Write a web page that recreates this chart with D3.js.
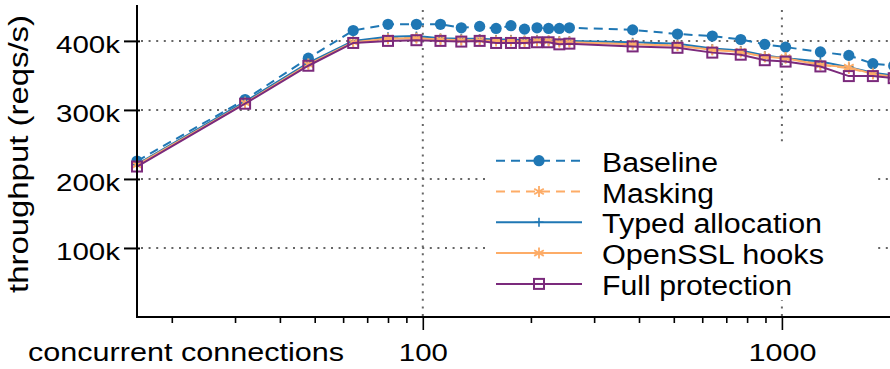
<!DOCTYPE html>
<html><head><meta charset="utf-8">
<script src="https://cdn.jsdelivr.net/npm/d3@7"></script>
<style>
html,body{margin:0;padding:0;background:#fff;}
svg{display:block;font-family:"Liberation Sans",Arial,Helvetica,sans-serif;}
</style></head>
<body><svg id="chart" width="890" height="369"></svg>
<script>
// ---- data ----
const connections = [16,32,48,64,80,96,112,128,144,160,176,192,208,224,240,256,384,512,640,768,896,1024,1280,1536,1792,2048];
const baseline   = [226,315,375,415,424,424,424,419,421,418,422,417,419,418,418,419,416,410,407,402,395,391,384,379,367,364];
const masking    = [221,311,367,399,404,405,403,402,402,401,401,400,401,400,399,399,396,394,387,385,377,376,366,360,353,349];
const typedAlloc = [221,312,368,400,406,407,404,403,403,402,402,401,402,401,400,400,398,396,389,386,379,375,370,362,354,350];
const opensslHooks=[220,310,366,398,403,404,402,401,401,400,400,399,400,400,398,398,395,393,387,384,377,375,365,362,352,348];
const fullProt   = [218,309,364,397,400,401,400,399,400,397,397,397,398,398,395,396,392,390,383,380,372,370,363,349,349,346];
const seriesNames = ["Baseline","Masking","Typed allocation","OpenSSL hooks","Full protection"];
const yTickValues = [100,200,300,400];
const yTickLabels = ["100k","200k","300k","400k"];
const xMajorTicks = [100,1000];
const xMajorLabels = ["100","1000"];
const xMinorTicks = [20,30,40,50,60,70,80,90,200,300,400,500,600,700,800,900];
const xLabel = "concurrent connections";
const yLabel = "throughput (reqs/s)";

// ---- styles ----
const BLUE="#1f77b4", ORANGE="#fdac67", PURPLE="#7b2a7c";
const styles = [
  {color:BLUE, dash:"9,6", marker:"circle"},
  {color:ORANGE, dash:"9,6", marker:"asterisk"},
  {color:BLUE, dash:null, marker:"plus"},
  {color:ORANGE, dash:null, marker:"asterisk"},
  {color:PURPLE, dash:null, marker:"square"}
];
const allSeries = [baseline, masking, typedAlloc, opensslHooks, fullProt];

const svg = d3.select("#chart");
const L=137, R=890, T=5, B=317;
const x = d3.scaleLog().domain([16,2000]).range([L,R]);
const y = d3.scaleLinear().domain([0,452]).range([B,T]);

// grid
const grid = svg.append("g").attr("stroke","#666").attr("stroke-width",2).attr("stroke-dasharray","2,5.6");
grid.selectAll("line.h").data(yTickValues).join("line").attr("class","h")
  .attr("x1",L+4).attr("x2",R).attr("y1",d=>y(d)).attr("y2",d=>y(d));
grid.selectAll("line.v").data(xMajorTicks).join("line").attr("class","v")
  .attr("x1",d=>x(d)).attr("x2",d=>x(d)).attr("y1",T+5).attr("y2",B);

// series
function drawMarker(g, type, color){
  if(type==="circle"){
    g.append("circle").attr("r",5.6).attr("fill",color);
  } else if(type==="square"){
    g.append("rect").attr("x",-5).attr("y",-5).attr("width",10).attr("height",10)
      .attr("fill","none").attr("stroke",color).attr("stroke-width",2);
  } else if(type==="plus"){
    g.append("path").attr("d","M-4.5,0H4.5M0,-4.5V4.5").attr("stroke",color).attr("stroke-width",1.6);
  } else if(type==="asterisk"){
    g.append("path").attr("d","M0,-5.5V5.5M-4.8,-2.8L4.8,2.8M-4.8,2.8L4.8,-2.8").attr("stroke",color).attr("stroke-width",1.8);
  }
}
const line = d3.line().x(d=>x(d[0])).y(d=>y(d[1]));
allSeries.forEach((vals,i)=>{
  const st = styles[i];
  const pts = connections.map((c,j)=>[c,vals[j]]);
  const g = svg.append("g");
  g.append("path").datum(pts).attr("d",line).attr("fill","none")
    .attr("stroke",st.color).attr("stroke-width",2)
    .attr("stroke-dasharray",st.dash);
  pts.forEach(p=>{
    const m = g.append("g").attr("transform",`translate(${x(p[0])},${y(p[1])})`);
    drawMarker(m, st.marker, st.color);
  });
});

// axes
const yAxis = d3.axisLeft(y).tickValues(yTickValues).tickFormat((d,i)=>yTickLabels[i]).tickSize(13).tickPadding(4);
const gy = svg.append("g").attr("transform",`translate(${L},0)`).call(yAxis);
gy.select(".domain").attr("d",`M0,${T}V${B}`).attr("stroke","#000").attr("stroke-width",2);
gy.selectAll(".tick line").attr("x1",3).attr("stroke","#000").attr("stroke-width",2);
gy.selectAll(".tick text").attr("font-size",24).attr("fill","#000").attr("dy",null).attr("y",11.5)
  .attr("font-family","Liberation Sans, Arial, sans-serif")
  .attr("textLength",64).attr("lengthAdjust","spacingAndGlyphs");

const xAxisMinor = d3.axisBottom(x).tickValues(xMinorTicks).tickFormat("").tickSize(6);
const gxm = svg.append("g").attr("transform",`translate(0,${B})`).call(xAxisMinor);
gxm.select(".domain").remove();
gxm.selectAll(".tick line").attr("stroke","#000").attr("stroke-width",1.6);

const xAxis = d3.axisBottom(x).tickValues(xMajorTicks).tickFormat((d,i)=>xMajorLabels[i]).tickSize(13);
const gx = svg.append("g").attr("transform",`translate(0,${B})`).call(xAxis);
gx.select(".domain").attr("d",`M${L-1},0H${R}`).attr("stroke","#000").attr("stroke-width",2);
gx.selectAll(".tick line").attr("stroke","#000").attr("stroke-width",1.6);
gx.selectAll(".tick text").attr("font-size",24).attr("fill","#000").attr("dy",null).attr("y",44)
  .attr("font-family","Liberation Sans, Arial, sans-serif")
  .attr("textLength",(d,i)=>i===0?49:68).attr("lengthAdjust","spacingAndGlyphs");

// axis labels
svg.append("text").attr("x",28).attr("y",361).attr("font-size",26)
  .attr("textLength",316).attr("lengthAdjust","spacingAndGlyphs").text(xLabel);
svg.append("text").attr("transform","translate(28,154) rotate(-90)").attr("text-anchor","middle")
  .attr("font-size",27).attr("textLength",278).attr("lengthAdjust","spacingAndGlyphs").text(yLabel);

// legend
const lg = svg.append("g");
lg.append("rect").attr("x",490).attr("y",146).attr("width",386).attr("height",154).attr("fill","#fff");
const legendWidths = [116,112,220,222,190];
seriesNames.forEach((name,i)=>{
  const st = styles[i];
  const ry = 160.7 + i*30.8;
  const g = lg.append("g");
  g.append("line").attr("x1",496).attr("x2",582).attr("y1",ry).attr("y2",ry)
    .attr("stroke",st.color).attr("stroke-width",2).attr("stroke-dasharray",st.dash);
  const m = g.append("g").attr("transform",`translate(539,${ry})`);
  drawMarker(m, st.marker, st.color);
  g.append("text").attr("x",602).attr("y",ry+11).attr("font-size",27)
    .attr("textLength",legendWidths[i]).attr("lengthAdjust","spacingAndGlyphs").text(name);
});
</script></body></html>
